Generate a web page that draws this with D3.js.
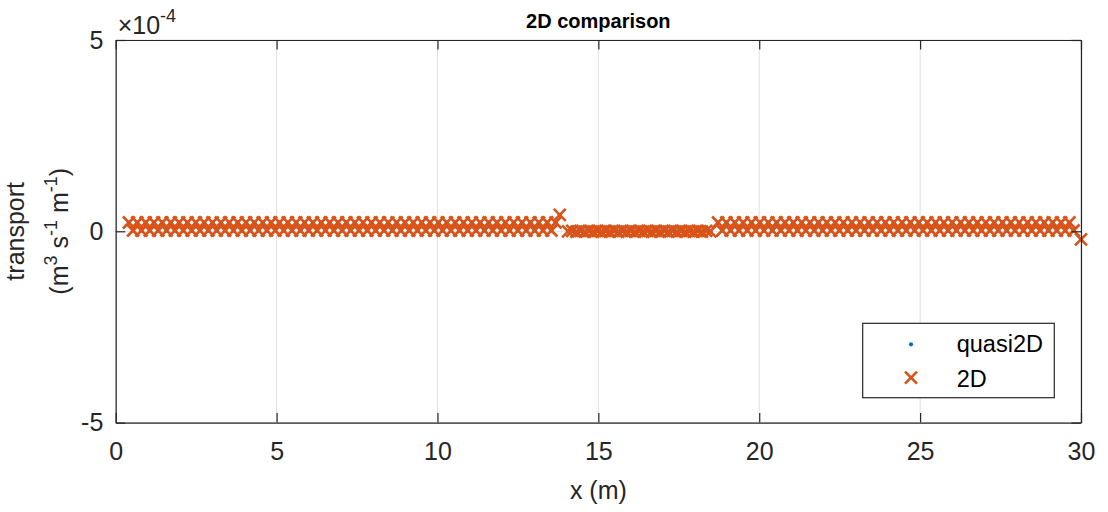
<!DOCTYPE html>
<html>
<head>
<meta charset="utf-8">
<script src="https://cdn.jsdelivr.net/npm/d3@7"></script>
<style>
body { margin: 0; background: #fff; }
text { font-family: "Liberation Sans", Arial, Helvetica, sans-serif; }
</style>
</head>
<body>
<div id="canvas"></div>
<script>
// transport values in units of 1e-5 m^3 s^-1 m^-1
const unit = 1e-5;

// upstream stretch
const xLeft = [0.41,0.54,0.67,0.80,0.93,1.06,1.19,1.32,1.45,1.58,
    1.71,1.84,1.97,2.10,2.23,2.36,2.49,2.62,2.75,2.88,
    3.01,3.14,3.27,3.40,3.53,3.66,3.79,3.92,4.05,4.18,
    4.31,4.44,4.57,4.70,4.83,4.96,5.09,5.22,5.35,5.48,
    5.61,5.74,5.87,6.00,6.13,6.26,6.39,6.52,6.65,6.78,
    6.91,7.04,7.17,7.30,7.43,7.56,7.69,7.82,7.95,8.08,
    8.21,8.34,8.47,8.60,8.73,8.86,8.99,9.12,9.25,9.38,
    9.51,9.64,9.77,9.90,10.03,10.16,10.29,10.42,10.55,10.68,
    10.81,10.94,11.07,11.20,11.33,11.46,11.59,11.72,11.85,11.98,
    12.11,12.24,12.37,12.50,12.63,12.76,12.89,13.02,13.15,13.28,
    13.41,13.54,13.67,13.80];
const yLeft = [2.3,0.2,2.3,0.2,2.3,0.2,2.3,0.2,2.3,0.2,
    2.3,0.2,2.3,0.2,2.3,0.2,2.3,0.2,2.3,0.2,
    2.3,0.2,2.3,0.2,2.3,0.2,2.3,0.2,2.3,0.2,
    2.3,0.2,2.3,0.2,2.3,0.2,2.3,0.2,2.3,0.2,
    2.3,0.2,2.3,0.2,2.3,0.2,2.3,0.2,2.3,0.2,
    2.3,0.2,2.3,0.2,2.3,0.2,2.3,0.2,2.3,0.2,
    2.3,0.2,2.3,0.2,2.3,0.2,2.3,0.2,2.3,0.2,
    2.3,0.2,2.3,0.2,2.3,0.2,2.3,0.2,2.3,0.2,
    2.3,0.2,2.3,0.2,2.3,0.2,2.3,0.2,2.3,0.2,
    2.3,0.2,2.3,0.2,2.3,0.2,2.3,0.2,2.3,0.2,
    2.3,0.2,2.3,4.3];

// middle stretch, almost zero
const xMid = [14.06,14.19,14.32,14.45,14.58,14.71,14.84,14.97,15.10,15.23,
    15.36,15.49,15.62,15.75,15.88,16.01,16.14,16.27,16.40,16.53,
    16.66,16.79,16.92,17.05,17.18,17.31,17.44,17.57,17.70,17.83,
    17.96,18.09,18.22,18.35,18.48];
const yMid = [0.0,0.1,-0.1,0.1,-0.1,0.1,-0.1,0.1,-0.1,0.1,
    -0.1,0.1,-0.1,0.1,-0.1,0.1,-0.1,0.1,-0.1,0.1,
    -0.1,0.1,-0.1,0.1,-0.1,0.1,-0.1,0.1,-0.1,0.1,
    -0.1,0.1,-0.1,0.1,0.0];

// downstream stretch
const xRight = [18.72,18.85,18.98,19.11,19.24,19.37,19.50,19.63,19.76,19.89,
    20.02,20.15,20.28,20.41,20.54,20.67,20.80,20.93,21.06,21.19,
    21.32,21.45,21.58,21.71,21.84,21.97,22.10,22.23,22.36,22.49,
    22.62,22.75,22.88,23.01,23.14,23.27,23.40,23.53,23.66,23.79,
    23.92,24.05,24.18,24.31,24.44,24.57,24.70,24.83,24.96,25.09,
    25.22,25.35,25.48,25.61,25.74,25.87,26.00,26.13,26.26,26.39,
    26.52,26.65,26.78,26.91,27.04,27.17,27.30,27.43,27.56,27.69,
    27.82,27.95,28.08,28.21,28.34,28.47,28.60,28.73,28.86,28.99,
    29.12,29.25,29.38,29.51,29.64,29.77,30.00];
const yRight = [2.3,0.2,2.3,0.2,2.3,0.2,2.3,0.2,2.3,0.2,
    2.3,0.2,2.3,0.2,2.3,0.2,2.3,0.2,2.3,0.2,
    2.3,0.2,2.3,0.2,2.3,0.2,2.3,0.2,2.3,0.2,
    2.3,0.2,2.3,0.2,2.3,0.2,2.3,0.2,2.3,0.2,
    2.3,0.2,2.3,0.2,2.3,0.2,2.3,0.2,2.3,0.2,
    2.3,0.2,2.3,0.2,2.3,0.2,2.3,0.2,2.3,0.2,
    2.3,0.2,2.3,0.2,2.3,0.2,2.3,0.2,2.3,0.2,
    2.3,0.2,2.3,0.2,2.3,0.2,2.3,0.2,2.3,0.2,
    2.3,0.2,2.3,0.2,2.3,0.2,-2.1];

const xTicks = [0, 5, 10, 15, 20, 25, 30];
const yTicks = [-5e-4, 0, 5e-4];
const yTickLabels = ["-5", "0", "5"];
const seriesNames = ["quasi2D", "2D"];
const seriesColors = ["#0072BD", "#D95319"];

const pts = (xs, ys) => xs.map((v, i) => ({ x: v, y: ys[i] * unit }));
const data2D = [].concat(pts(xLeft, yLeft), pts(xMid, yMid), pts(xRight, yRight));
// quasi2D sits right under the 2D markers
const dataQ = [].concat(pts(xLeft, yLeft), pts(xMid, yMid), pts(xRight, yRight));

const width = 1108;
const height = 512;
const margin = { top: 40, left: 115.7, bottom: 89.4, right: 27 };
const iwidth = width - margin.left - margin.right;
const iheight = height - margin.top - margin.bottom;
const axisColor = "#262626";

const svg = d3.select("#canvas").append("svg")
    .attr("width", width)
    .attr("height", height);

const g = svg.append("g").attr("transform", `translate(${margin.left},${margin.top})`);

const x = d3.scaleLinear().domain([0, 30]).range([0, iwidth]);
const y = d3.scaleLinear().domain([-5e-4, 5e-4]).range([iheight, 0]);

// grid
g.append("g").selectAll("line").data(xTicks).enter().append("line")
    .attr("x1", d => x(d)).attr("x2", d => x(d))
    .attr("y1", 0).attr("y2", iheight)
    .attr("stroke", "#dfdfdf").attr("stroke-width", 1);
g.append("g").selectAll("line").data(yTicks).enter().append("line")
    .attr("x1", 0).attr("x2", iwidth)
    .attr("y1", d => y(d)).attr("y2", d => y(d))
    .attr("stroke", "#dfdfdf").attr("stroke-width", 1);

// quasi2D dots
g.append("g").selectAll("circle").data(dataQ).enter().append("circle")
    .attr("cx", d => x(d.x))
    .attr("cy", d => y(d.y))
    .attr("r", 2.1)
    .attr("fill", seriesColors[0]);

// 2D crosses
const cross = d3.symbol().type(d3.symbolX).size(95.7);
g.append("g").selectAll("path").data(data2D).enter().append("path")
    .attr("d", cross)
    .attr("transform", d => `translate(${x(d.x)},${y(d.y)})`)
    .attr("fill", "none")
    .attr("stroke", seriesColors[1])
    .attr("stroke-width", 2.6);

// axes and box
const tickLen = -9.6;
const styleAxis = sel => {
    sel.select(".domain").attr("stroke", axisColor).attr("stroke-width", 1.2);
    sel.selectAll(".tick line").attr("stroke", axisColor).attr("stroke-width", 1.2);
    sel.selectAll("text").attr("fill", axisColor).style("font-size", "25px")
        .attr("font-family", "Liberation Sans, Arial, sans-serif");
};

g.append("g")
    .attr("transform", `translate(0,${iheight})`)
    .call(d3.axisBottom(x).tickValues(xTicks).tickFormat(d3.format("d"))
        .tickSize(tickLen).tickSizeOuter(0).tickPadding(20))
    .call(styleAxis);

g.append("g")
    .call(d3.axisTop(x).tickValues(xTicks).tickFormat("")
        .tickSize(tickLen).tickSizeOuter(0))
    .call(styleAxis);

g.append("g")
    .call(d3.axisLeft(y).tickValues(yTicks).tickFormat((d, i) => yTickLabels[i])
        .tickSize(tickLen).tickSizeOuter(0).tickPadding(12.4))
    .call(styleAxis);

g.append("g")
    .attr("transform", `translate(${iwidth},0)`)
    .call(d3.axisRight(y).tickValues(yTicks).tickFormat("")
        .tickSize(tickLen).tickSizeOuter(0))
    .call(styleAxis);

// exponent
const expo = svg.append("text")
    .attr("x", margin.left + 2)
    .attr("y", 34)
    .attr("fill", axisColor)
    .style("font-size", "25px");
expo.append("tspan").text("×10");
expo.append("tspan").attr("dy", -12).style("font-size", "18px").text("-4");

// title
svg.append("text")
    .attr("x", margin.left + iwidth / 2)
    .attr("y", 28)
    .attr("text-anchor", "middle")
    .attr("font-weight", "bold")
    .style("font-size", "20px")
    .attr("fill", "#000")
    .text("2D comparison");

// x label
svg.append("text")
    .attr("x", margin.left + iwidth / 2)
    .attr("y", 499)
    .attr("text-anchor", "middle")
    .attr("fill", axisColor)
    .style("font-size", "25px")
    .text("x (m)");

// y label, two lines
const cy = margin.top + iheight / 2;
svg.append("text")
    .attr("transform", `translate(24,${cy}) rotate(-90)`)
    .attr("text-anchor", "middle")
    .attr("fill", axisColor)
    .style("font-size", "25px")
    .text("transport");

const yl2 = svg.append("text")
    .attr("transform", `translate(67.5,${cy}) rotate(-90)`)
    .attr("text-anchor", "middle")
    .attr("fill", axisColor)
    .style("font-size", "25px");
const parts = [["(m", 0], ["3", 1], [" s", 0], ["-1", 1], [" m", 0], ["-1", 1], [")", 0]];
let up = false;
parts.forEach(p => {
    const t = yl2.append("tspan").text(p[0]);
    if (p[1] && !up) { t.attr("dy", -11).style("font-size", "18px"); up = true; }
    else if (!p[1] && up) { t.attr("dy", 11); up = false; }
    else if (p[1]) t.style("font-size", "18px");
});

// legend
const lg = svg.append("g").attr("transform", "translate(862.7,323.3)");
lg.append("rect")
    .attr("width", 191.6).attr("height", 74.4)
    .attr("fill", "#fff").attr("stroke", axisColor).attr("stroke-width", 1.2);
lg.append("circle").attr("cx", 48.3).attr("cy", 21).attr("r", 2.1).attr("fill", seriesColors[0]);
lg.append("path").attr("d", cross).attr("transform", "translate(48.3,54.4)")
    .attr("fill", "none").attr("stroke", seriesColors[1]).attr("stroke-width", 2.6);
lg.selectAll("text.lab").data(seriesNames).enter().append("text")
    .attr("class", "lab")
    .attr("x", 94)
    .attr("y", (d, i) => 29 + i * 34.4)
    .attr("fill", "#000")
    .style("font-size", "23.5px")
    .text(d => d);
</script>
</body>
</html>
